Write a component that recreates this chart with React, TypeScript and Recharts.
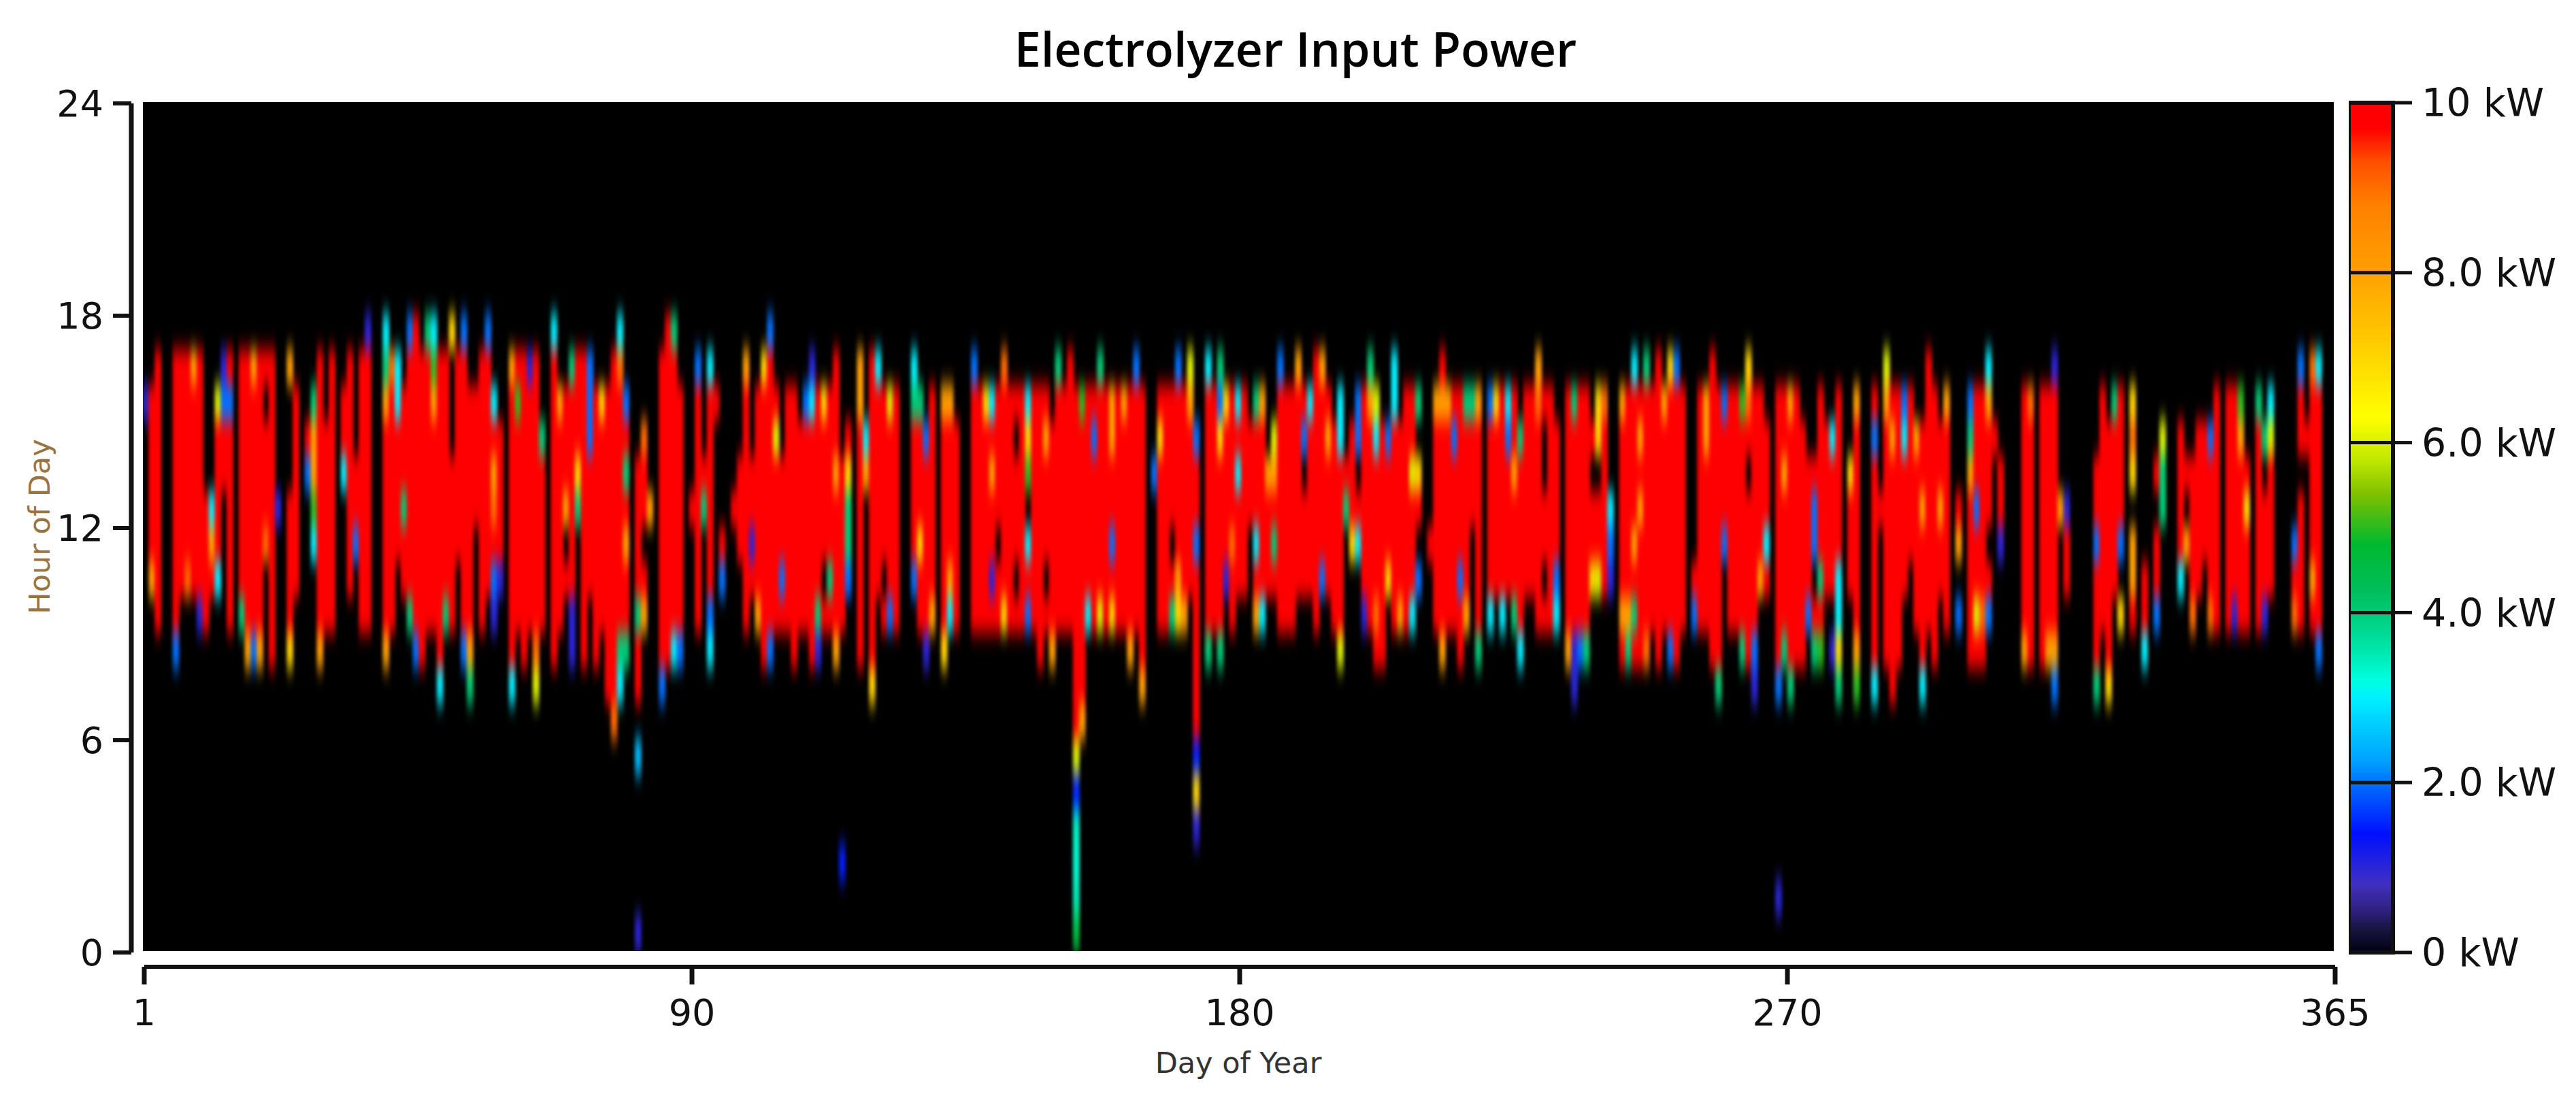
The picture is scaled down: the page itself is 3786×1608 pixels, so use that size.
import React from 'react';
import {
  Bar,
  BarChart,
  ReferenceArea,
  ReferenceLine,
  Scatter,
  ScatterChart,
  XAxis,
  YAxis,
} from 'recharts';

const AXIS_FONT = '"DejaVu Sans", sans-serif';

// each string is one day, hours 17 down to 6. "." = 0 kW, digit = kW, A = 10 kW
const Z = '............';
const daysQ1 = [
  '..1.........', '..AAAAA8....', '.AAAAAAAA...', Z, Z, '.AAAAAAAA2..', '.AAAAAAA....', '.AAAAAA9....', '.8AAAAAA....', '.AAAAAAA1...',
  '.....AAAA...', '.....38A....', '..6AAAA3....', '.12AA.......', '.A2AAAAAA...', Z, '.AAAAAAA4...', '.AAAAAAAA8..', '.8AAAAAAA2..', '.AAAAAAAA8..',
  '.A.AAA9.....', '.AAAAAAAAA..', '.....1......', Z, '.8...AAAA7..', '..AAAAAA....', Z, '...A2.......', '..48853.....', '.AAAAAAAA8..',
  '...AAAAAA...', '.AAAAAAAA...', Z, '..AA3.......', '.AAAAAAA....', '....AA2.....', '.AAAAAAAA...', '1AAAAAAAA...', Z, Z,
  '348AAAAAA8..', '.9AAAAAAA...', '.33AAAA.....', '..AAA4AA....', '2AAAAAAA4...', 'AAAAAAAAA2..', '.AAAAAAAAA..', '4AAAAAAAA...', '358AAAAAA...', '.AAAAAAAAA3.',
  '.AAAAAAA4...', '7...AAAAA...', '.AAAAAA.....', '2AAAAAAAA2..', '..AAAAAAA84.', '..AAAA......', '.AAAAAAAA...', '2AAAAAAA....', '..3A89A21...', '...AAAA1....',
  Z, '.8AAAAAAAA3.', '.A5AAAAAA...', '.AAAAAAAAA..', '.1AAAAAAA...', '.AAAAAAAA96.', '...4AAAAA...', Z, '3AAAAAAAAA..', '..8AAAAAA...',
  '..AAA8.A....', '.4AAAAAA11..', '.AAA74......', '.AAAAAAAAA..', '.222AAAA....', '..AAAAAAAA..', '..7AAAAAA...', '..AAAAAAAAA.', '.AAAAAAAAAA9', '39AAAAAAA43.',
  '..2A4A8AA4..', Z, '....AAAA4AA.', '...9AA.A8...', '.....8......', Z, '.AAAAAAAAA2.', 'AAAAAAAAAA..', '4AAAAAAAA3..', '..AAAAAAA2..',
];
const daysQ2 = [
  Z, '.....A......', '.2AAAAAAA...', '....A4......', '.3AAAAAA23..', '..A.........', '......A2....', Z, '.....A......', '....AAA.....',
  '.8AAAAAAA...', '....AA1A....', '..AAAAAA8...', '.7AAAAAAAA..', '2AAAAAAAA2..', '..A6AAAAA...', '....AAA2A...', '..AAAAAAA...', '..AAAAAAAA..', '...AAAAAA...',
  '..2AAAAAA...', '.13AAAAAAA..', '..AAAAAA41..', '..7AAAA.A...', '..AAAAA4A...', '.AAA8AAAA8..', '....AAAAA...', '...A7442....', Z, '.88AAAAAAA..',
  '...38.......', '.AAAAAAAAA7.', '.3AAAAAA....', '..AAAAA.A...', '..6AAAAA2...', '..AAAAAAA...', Z, Z, '.34AAAA2....', '..4AAA7AA...',
  '...2AAAAA1..', '..AAAAAA8...', Z, '..8AAAAAA7..', '..8AAAA83...', '...AAAAAA...', Z, Z, '.2AAAAAAA...', '..AAAAAAA...',
  '..7AAAAAA...', '..3A8AA1A...', '..AAAA.AA...', '.9AAAAAA7...', '..AAAAAAA...', '..A.AAA.A...', '..AAAAAAA...', '..375.3A2...', '..AAAAAAA...', '..AAAAAAAA..',
  '..A8AAA.A...', '...AAAAAA8..', '.4AAAAAAA...', '..AAAAAAA...', '.AAAAAAAA...', '..AAAAAAAAAA', '..5AAAAAAAA8', '..AAAAAA3...', '..A2AAAAA...', '.4AAAAAA6...',
  '..AAAAAAA...', '..88AA2A7...', '..AAAAAAA...', '..8AAAAAA...', '..AAAAAAA8..', '.2AAAAAAA...', '..AAAAAAAA8.', Z, '....2.......', '..A7AAAAA...',
  '..AAAAAAA...', '..AAAA.A4...', '.2AAAAA87...', '..AAAAAA8...', '.68AAAAA....', '...2AA2AAAAA', Z, '.3AAAAAAA4..', '..AAAAAAA...', '.427AAAAA4..',
];
const daysQ3 = [
  '..7AAAA1....', '..AAAA9AA...', '..3A3AAA....', '..AAAAAA....', '...AAA......', '..4AAA3A8...', '..8AAAAA3...', '....8AAA....', '...68A4A....', '.2AAAAAAA...',
  '..AAAAAAA...', '..AAAAAAA...', '.8AAAAAA....', '..A2.AAA....', '..3AAAAA....', '.AAAAAAAA...', '.8AAAAA2....', '..A8AAAA....', '...AAAAAA...', '..33AAAAA6..',
  '....A4......', '...AAA7.....', '..22.A3.....', '..AAAAAA1...', '.48AAAAAA...', '..63AAAA9A..', '...AAAAAAA..', '...2AAA7....', '.33AAAAAA...', '...AAAAA8...',
  '..AAAAAAA...', '..AA6AAA3...', '..4.7A.2....', Z, '......A.....', '..8AAAAAA...', '.A8AAAAAA8..', '..8AAAAAA...', '..A2AAAAA...', '..AAAAA2AA..',
  '..4AAAAA8...', '..4AAA......', '..8AAAAAA4..', Z, '..2AAAAA3...', '..7AAAAA....', '..AAAAAA3...', '..32AAAA....', '..AA8AAA4...', '...4AAAAA3..',
  '..AAAAAA....', '..AAAAAA....', '.89AAAAAA...', '..A..AA.A...', '..AAAAAAA...', '...AAAA23...', Z, '..AAAAAAA8..', '..4AAAAAA11.', '..AAAAAAA2..',
  '..AAAAAAA4..', '...A.AA7....', '..77.AA6....', '..9AAAAA....', '.....321....', Z, '..8AAAAA8A..', '..AAAAAA84..', '.3AAAA8A4A..', '..A8A8AAAA..',
  '.4AAAAAAA9..', '..AAAAAAA...', '.AAAAAAAAA..', '..8AAAAAA...', '.7AAAAAAA2..', '.2AAAAAAAA..', '..AAAAAAA...', Z, '.......A2...', '..AAAAAAA...',
  '..88AAAAA...', '.AAAAAAAAA..', '..AAAAAAAA4.', '..2AAA2.....', '..AAAAAAA...', '..AAAAAAA...', '..5AAAAAA4..', '.79A.AAAAA..', '..AAAAAAA21.', '..AAAAA8....',
  '...AAA3A....',
];
const daysQ4 = [
  Z, '..AAAAAAAA2.', '..AA8AAAA4..', '..8AAAAAAA4.', '..AAAAAAAA..', '...AAAAAAA..', '....AAAA2...', '....A22.A4..', '..AAAAA4A5..', '...AAAAA....',
  '...3AAAA.1..', '..AAAAA3374.', Z, '....7AAA....', '..8AAAAAA85.', Z, Z, '..A2AAAAAA3.', '.....A......', '.68AAAAAAA..',
  '..A8AAAAAAA.', '..AAAAAAAA..', '..23AAAA....', '..AAAAA.....', '...8AAAAA...', '...AA8AAAA3.', '.AAAAAAAA...', '..AAAAAAAA..', '...AA8AA....', '..8AAAAAA...',
  Z, '.....A8.2...', Z, '..248AAAAA..', '..AAA2AA6A..', '..AAAAAA9A..', '.38AAA.A2...', '...A........', '....AA1.....', Z,
  Z, Z, '..AAAAAAA8..', '..9AAAAAAA..', Z, '..AAAAAAAA..', '..AAAAAAA8..', '.1AAAAAAA82.', '.....8......', '.....1AA....',
  Z, Z, Z, Z, '....AA2AAA4.', '..AAAAAAA...', '...AAAAAAA7.', '..4AAAAA....', '..AAAA2.7...', Z,
  '..797.88A...', Z, '.......AA3..', Z, '....A.AA2...', '...644......', Z, Z, '...AAAA3....', '....A.8.....',
  '....AAAA9...', '...AAAAA....', '...AAAA.....', '...2AAAA9...', '..AAAAAAA...', Z, '..AAAAAAA...', '..AAAAAA1...', '..58AAAAA...', '....A7AAA...',
  Z, '..4AAAAAA...', '...4.AAA1...', '..36AAAA....', Z, Z, Z, '......2A9...', '.2AA.AAAA...', '...A........',
  '.9AAAAA8A...', '.3AAAAAAA2..', Z, Z,
];
// the few cells under hour 6: day, hour, kW
const earlyCells = [
  [83, 5, 2.5], [83, 0, 1], [117, 2, 1.5], [156, 5, 6], [156, 4, 1.5], [156, 3, 3.4], [156, 2, 3.3], [156, 1, 3.5],
  [156, 0, 4.6], [176, 5, 1.5], [176, 4, 7], [176, 3, 1], [273, 1, 1],
];

const hourTicks = [0, 6, 12, 18, 24];
const dayTicks = [0.5, 91.75, 183, 274.25, 365.5];
const dayTickLabels = ['1', '90', '180', '270', '365'];

const powerTicks = [0, 2, 4, 6, 8, 10];
const powerTickLabels = ['0 kW', '2.0 kW', '4.0 kW', '6.0 kW', '8.0 kW', '10 kW'];
const stopValues = [0, 0.27, 0.5, 0.8, 1.1, 1.4, 1.9, 2.25, 3, 3.2, 3.65, 4.2, 4.8, 5.4, 5.8, 6.3, 7.1, 8, 8.8, 9.3, 9.7, 10];
const stopColors = [
  '#000010', '#151540', '#302080', '#4030c0', '#2020e0', '#0010ff', '#0060ff', '#00a0ff', '#00f0ff', '#00ffe0', '#00e0a0',
  '#00c060', '#00b830', '#80c000', '#c0e800', '#ffff00', '#ffd000', '#ffa000', '#ff8000', '#ff5000', '#ff0000', '#ff0000',
];

const toRgb = (hex: string) => [1, 3, 5].map((i) => parseInt(hex.slice(i, i + 2), 16));

const colorFor = (kw: number) => {
  let i = 0;
  while (i < stopValues.length - 2 && kw > stopValues[i + 1]) i++;
  const t = Math.min(1, (kw - stopValues[i]) / (stopValues[i + 1] - stopValues[i]));
  const a = toRgb(stopColors[i]);
  const b = toRgb(stopColors[i + 1]);
  return `rgb(${a.map((v, k) => Math.round(v + (b[k] - v) * t)).join(',')})`;
};

const cells: { day: number; mid: number; kw: number }[] = [];
[...daysQ1, ...daysQ2, ...daysQ3, ...daysQ4].forEach((row, d) => {
  row.split('').forEach((ch, i) => {
    if (ch === '.') return;
    cells.push({ day: d + 1, mid: 17.5 - i, kw: ch === 'A' ? 10 : Number(ch) });
  });
});
earlyCells.forEach(([day, hour, kw]) => cells.push({ day, mid: hour + 0.5, kw }));

const PLOT = { left: 210, top: 150, width: 3220, height: 1248 };
const CELL_W = PLOT.width / 365;
const CELL_H = PLOT.height / 24;

const HeatCell = (props: any) => (
  <rect
    x={props.cx - CELL_W / 2 - 0.5}
    y={props.cy - CELL_H / 2 - 0.5}
    width={CELL_W + 1}
    height={CELL_H + 1}
    fill={colorFor(props.payload.kw)}
  />
);

const chartCss = `
  .recharts-scatter { filter: url(#cellBlur); }
  .heat .recharts-yAxis, .heat .recharts-yAxis-tick-labels { transform: translate(-17px, 2px); }
  .heat .recharts-xAxis, .heat .recharts-xAxis-tick-labels { transform: translate(2px, 23px); }
`;

export default function App() {
  return (
    <div style={{ position: 'absolute', left: 0, top: 0, width: 3786, height: 1608, background: '#fff' }}>
      <style>{chartCss}</style>
      <svg width={0} height={0} style={{ position: 'absolute' }}>
        <defs>
          <filter
            id="cellBlur"
            filterUnits="userSpaceOnUse"
            x={PLOT.left}
            y={PLOT.top}
            width={PLOT.width}
            height={PLOT.height}
            colorInterpolationFilters="sRGB"
          >
            <feGaussianBlur stdDeviation="2.6 15" />
          </filter>
        </defs>
      </svg>

      <div
        style={{
          position: 'absolute',
          left: 1904 - 600,
          top: 26,
          width: 1200,
          textAlign: 'center',
          fontFamily: '"Open Sans", sans-serif',
          fontWeight: 600,
          fontSize: 70,
          lineHeight: '90px',
          color: '#000',
        }}
      >
        Electrolyzer Input Power
      </div>

      <div className="heat" style={{ position: 'absolute', left: 0, top: 0 }}>
        <ScatterChart width={3786} height={1608} margin={{ left: 60, right: 356, top: 150, bottom: 110 }}>
          <XAxis
            type="number"
            dataKey="day"
            domain={[0.5, 365.5]}
            ticks={dayTicks}
            interval={0}
            height={100}
            tickFormatter={(v: number) => dayTickLabels[dayTicks.indexOf(v)]}
            tick={{ fontFamily: AXIS_FONT, fontSize: 54, fill: '#111' }}
            tickSize={26}
            tickMargin={22}
            axisLine={{ stroke: '#111', strokeWidth: 6 }}
            tickLine={{ stroke: '#111', strokeWidth: 7 }}
            label={{
              value: 'Day of Year',
              position: 'insideBottom',
              offset: -79,
              fontFamily: AXIS_FONT,
              fontSize: 43,
              fill: '#333',
            }}
          />
          <YAxis
            type="number"
            dataKey="mid"
            domain={[0, 24]}
            ticks={hourTicks}
            interval={0}
            width={150}
            tick={{ fontFamily: AXIS_FONT, fontSize: 54, fill: '#111' }}
            tickSize={27}
            tickMargin={14}
            axisLine={{ stroke: '#111', strokeWidth: 7 }}
            tickLine={{ stroke: '#111', strokeWidth: 6 }}
            label={{
              value: 'Hour of Day',
              angle: -90,
              position: 'insideLeft',
              offset: -2,
              textAnchor: 'middle',
              fontFamily: AXIS_FONT,
              fontSize: 43,
              fill: '#9a7440',
            }}
          />
          <ReferenceArea x1={0.5} x2={365.5} y1={0} y2={24} fill="#000" fillOpacity={1} stroke="none" />
          <Scatter data={cells} shape={HeatCell} isAnimationActive={false} />
        </ScatterChart>
      </div>

      <div style={{ position: 'absolute', left: 3452, top: 0 }}>
        <BarChart
          width={334}
          height={1608}
          data={[{ band: 'power', top: 10 }]}
          margin={{ left: 0, right: 0, top: 151, bottom: 208 }}
          barCategoryGap={0}
        >
          <defs>
            <linearGradient id="powerScale" x1="0" y1="1" x2="0" y2="0">
              {stopValues.map((v, i) => (
                <stop key={v} offset={v / 10} stopColor={stopColors[i]} />
              ))}
            </linearGradient>
          </defs>
          <XAxis dataKey="band" hide />
          <YAxis
            orientation="right"
            type="number"
            domain={[0, 10]}
            ticks={powerTicks}
            interval={0}
            width={269}
            tickFormatter={(v: number) => powerTickLabels[powerTicks.indexOf(v)]}
            tick={{ fontFamily: AXIS_FONT, fontSize: 57, fill: '#111' }}
            tickSize={28}
            tickMargin={14}
            axisLine={{ stroke: '#111', strokeWidth: 6 }}
            tickLine={{ stroke: '#111', strokeWidth: 5 }}
          />
          <Bar dataKey="top" fill="url(#powerScale)" stroke="#111" strokeWidth={6} isAnimationActive={false} />
          {powerTicks.slice(1, -1).map((v) => (
            <ReferenceLine key={v} y={v} stroke="#111" strokeWidth={5} />
          ))}
        </BarChart>
      </div>
    </div>
  );
}
